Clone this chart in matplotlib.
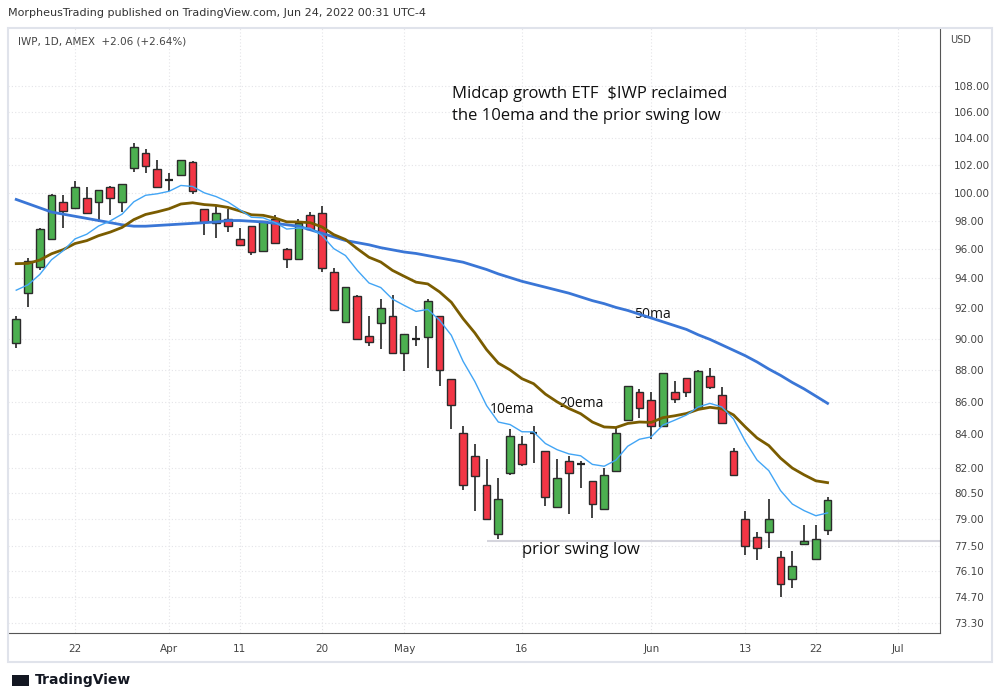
import numpy as np
import matplotlib
matplotlib.use("Agg")
import matplotlib.pyplot as plt
from matplotlib.ticker import NullLocator, FixedLocator, FixedFormatter

# ---- data (IWP daily, Mar 15 - Jun 23 2022) ----
opens = [89.7, 93.0, 94.8, 96.7, 99.3, 98.9, 99.6, 99.3, 100.4, 99.3,
         101.8, 102.9, 101.7, 100.9, 101.3, 102.2, 98.8, 97.8, 98.1, 96.7,
         97.6, 95.9, 98.1, 96.0, 95.3, 98.4, 98.5, 94.4, 91.1, 92.8,
         90.2, 91.0, 91.5, 89.1, 90.0, 90.1, 91.5, 87.4, 84.1, 82.7,
         81.0, 78.2, 81.7, 83.4, 84.1, 83.0, 79.7, 82.4, 82.3, 81.2,
         79.6, 81.8, 84.9, 86.6, 86.1, 84.5, 86.6, 87.5, 85.6, 87.6,
         86.4, 83.0, 79.0, 78.0, 78.3, 76.9, 75.7, 77.6, 76.8, 78.4]
highs = [91.5, 95.4, 97.5, 99.9, 99.8, 100.8, 100.4, 100.2, 100.5, 100.6,
         103.6, 103.2, 102.4, 101.4, 102.4, 102.3, 98.8, 99.0, 98.8, 97.5,
         97.6, 98.0, 98.4, 96.1, 98.1, 98.6, 99.0, 94.7, 93.4, 92.9,
         91.5, 92.6, 92.9, 90.3, 90.8, 92.6, 91.5, 87.4, 84.5, 83.4,
         82.5, 81.4, 84.3, 83.9, 84.5, 83.0, 82.5, 82.7, 82.4, 81.2,
         82.0, 84.4, 87.0, 86.8, 86.6, 87.8, 87.3, 87.5, 88.0, 88.1,
         86.9, 83.2, 79.5, 78.3, 80.2, 77.2, 77.2, 78.7, 78.7, 80.3]
lows = [89.4, 92.1, 94.6, 96.7, 97.5, 98.8, 98.5, 97.9, 98.4, 98.6,
        101.5, 101.4, 100.4, 100.1, 101.2, 99.9, 97.0, 96.8, 97.2, 96.2,
        95.6, 95.9, 96.4, 94.7, 95.3, 97.4, 94.4, 91.9, 91.0, 90.0,
        89.5, 89.3, 89.1, 87.9, 89.5, 88.1, 87.0, 84.3, 80.7, 79.5,
        79.0, 77.9, 81.6, 82.1, 82.3, 79.8, 79.7, 79.3, 80.8, 79.1,
        79.6, 81.8, 84.9, 85.0, 83.7, 84.5, 85.9, 86.3, 85.6, 86.8,
        84.7, 81.5, 77.0, 76.7, 77.4, 74.7, 75.2, 77.6, 76.7, 78.1]
closes = [91.3, 95.2, 97.4, 99.8, 98.7, 100.4, 98.5, 100.2, 99.6, 100.6,
          103.3, 101.9, 100.4, 100.9, 102.4, 100.1, 97.9, 98.5, 97.6, 96.3,
          95.8, 98.0, 96.4, 95.3, 97.8, 97.4, 94.7, 91.9, 93.4, 90.0,
          89.8, 92.0, 89.1, 90.3, 90.0, 92.5, 88.0, 85.8, 81.0, 81.5,
          79.0, 80.2, 83.9, 82.2, 84.1, 80.3, 81.4, 81.7, 82.2, 79.9,
          81.6, 84.1, 87.0, 85.6, 84.5, 87.8, 86.2, 86.6, 87.9, 86.9,
          84.7, 81.6, 77.5, 77.4, 79.0, 75.4, 76.4, 77.8, 77.9, 80.1]
ma50 = [99.5, 99.2, 98.9, 98.6, 98.45, 98.3, 98.15, 98.0, 97.85, 97.7,
        97.6, 97.6, 97.65, 97.7, 97.75, 97.8, 97.85, 97.9, 98.0, 98.0,
        97.95, 97.9, 97.8, 97.7, 97.6, 97.35, 97.1, 96.85, 96.6, 96.45,
        96.3, 96.1, 95.95, 95.8, 95.7, 95.55, 95.4, 95.25, 95.1, 94.85,
        94.6, 94.3, 94.05, 93.8, 93.6, 93.4, 93.2, 93.0, 92.75, 92.5,
        92.3, 92.05, 91.85, 91.6, 91.35, 91.1, 90.85, 90.6, 90.25, 89.95,
        89.6, 89.25, 88.9, 88.5, 88.05, 87.65, 87.2, 86.8, 86.35, 85.9]
ema10_start = 93.2
ema20_start = 95.0
swing_low = 77.8
swing_low_from = 40
xtick_pos = [5, 13, 19, 26, 33, 43, 54, 62, 68, 75]
xtick_labels = ["22", "Apr", "11", "20", "May", "16", "Jun", "13", "22", "Jul"]
ytick_vals = [108, 106, 104, 102, 100, 98, 96, 94, 92, 90, 88, 86, 84, 82,
              80.5, 79, 77.5, 76.1, 74.7, 73.3]


def ema(vals, n, start):
    a = 2.0 / (n + 1)
    out = []
    e = start
    for i, v in enumerate(vals):
        if i > 0:
            e = a * v + (1 - a) * e
        out.append(e)
    return out


ema10 = ema(closes, 10, ema10_start)
ema20 = ema(closes, 20, ema20_start)

fig = plt.figure(figsize=(10, 6.97), dpi=100)
ax = fig.add_axes([0.008, 0.092, 0.932, 0.868])
ax.set_yscale("log")
ax.set_ylim(72.8, 112.6)
ax.set_xlim(-0.7, 78.56)

x = np.arange(len(closes))
up_c, dn_c, edge = "#4caf50", "#f23645", "#2b2b2b"
w = 0.66
for i in x:
    o, h, l, c = opens[i], highs[i], lows[i], closes[i]
    ax.vlines(i, l, h, color="#111111", lw=1.1, zorder=3)
    col = up_c if c >= o else dn_c
    lo, hi = min(o, c), max(o, c)
    if hi - lo < 0.12:
        ax.hlines((o + c) / 2, i - w / 2, i + w / 2, color="#222222", lw=1.6, zorder=4)
    else:
        ax.add_patch(plt.Rectangle((i - w / 2, lo), w, hi - lo, facecolor=col,
                                   edgecolor=edge, lw=1.0, zorder=4))

ax.plot(x, ma50, color="#3a76d6", lw=2.0, zorder=5)
ax.plot(x, ema20, color="#7a5c00", lw=2.0, zorder=5)
ax.plot(x, ema10, color="#42a5f5", lw=1.0, zorder=5)
ax.hlines(swing_low, swing_low_from, 78.56, color="#d5d5dd", lw=1.5, zorder=2)

ax.yaxis.set_minor_locator(NullLocator())
ax.yaxis.set_major_locator(FixedLocator(ytick_vals))
ax.yaxis.set_major_formatter(FixedFormatter(["%.2f" % v for v in ytick_vals]))
ax.yaxis.tick_right()
ax.set_xticks(xtick_pos)
ax.set_xticklabels(xtick_labels)
ax.tick_params(axis="both", length=0, labelsize=7.5, colors="#444444", pad=8)
ax.tick_params(axis="y", pad=10)
ax.grid(True, color="#e4e4e8", lw=0.8, linestyle=(0, (1, 2)))
for s in ["top", "left"]:
    ax.spines[s].set_visible(False)
ax.spines["bottom"].set_color("#555555")
ax.spines["right"].set_color("#555555")

ax.text(37.1, 106.5, "Midcap growth ETF  $IWP reclaimed\nthe 10ema and the prior swing low",
        fontsize=12, color="#111111", va="center", linespacing=1.45, family="Open Sans")
ax.text(52.5, 91.6, "50ma", fontsize=10, color="#111111", va="center", family="Open Sans")
ax.text(46.2, 85.9, "20ema", fontsize=10, color="#111111", va="center", family="Open Sans")
ax.text(40.3, 85.5, "10ema", fontsize=10, color="#111111", va="center", family="Open Sans")
ax.text(43.0, 77.3, "prior swing low", fontsize=12, color="#111111", va="center", family="Open Sans")

fig.text(0.008, 0.981, "MorpheusTrading published on TradingView.com, Jun 24, 2022 00:31 UTC-4",
         fontsize=8, color="#333333", va="center")
fig.text(0.018, 0.94, "IWP, 1D, AMEX  +2.06 (+2.64%)", fontsize=7.5, color="#444444", va="center")
fig.text(0.95, 0.943, "USD", fontsize=7, color="#444444", va="center")
fig.text(0.035, 0.024, "TradingView", fontsize=10, color="#131722", va="center", weight="bold")
fig.patches.append(plt.Rectangle((0.012, 0.016), 0.017, 0.016, transform=fig.transFigure,
                                 facecolor="#131722", edgecolor="none"))
# light frame of chart panel
fig.patches.append(plt.Rectangle((0.008, 0.05), 0.984, 0.91, transform=fig.transFigure,
                                 facecolor="none", edgecolor="#e0e3eb", lw=1.5))
fig.savefig("out.png", dpi=100)
